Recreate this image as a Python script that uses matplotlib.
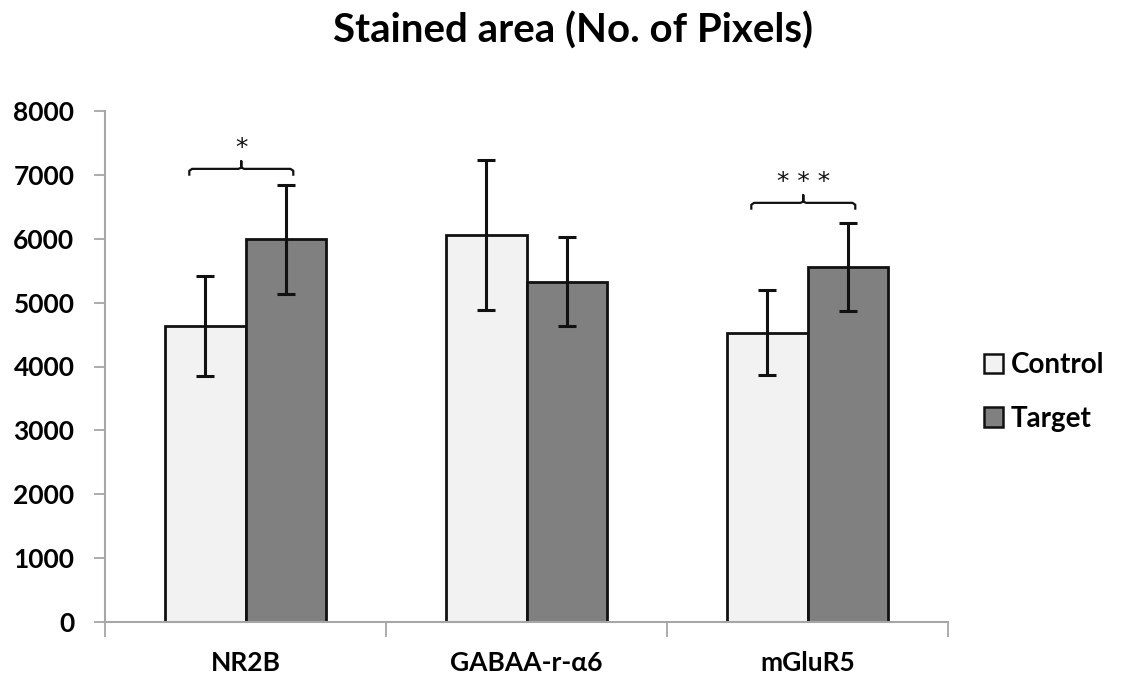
import numpy as np
import matplotlib
matplotlib.use('Agg')
import matplotlib.pyplot as plt
from matplotlib.patches import Patch

categories = ['NR2B', 'GABAA-r-\u03b16', 'mGluR5']
control = [4630, 6060, 4530]
control_err = [780, 1180, 665]
target = [5990, 5330, 5560]
target_err = [853, 690, 693]
yticks = [0, 1000, 2000, 3000, 4000, 5000, 6000, 7000, 8000]

# significance brackets: category index, label, bracket height
sig_idx = [0, 2]
sig_labels = ['*', '* * *']
sig_height = [7094, 6562]

plt.rcParams['font.family'] = ['Lato', 'DejaVu Sans']

fig = plt.figure(figsize=(11.23, 6.81), dpi=100)
ax = fig.add_axes([105 / 1123, 59 / 681, 843 / 1123, 511 / 681])

x = np.arange(len(categories))
w = 0.285
err_kw = dict(ecolor='#111111', elinewidth=2.2, capsize=6.5, capthick=2.2)
ax.bar(x - w / 2, control, w, color='#f2f2f2', edgecolor='#111111', linewidth=2.0,
       yerr=control_err, error_kw=err_kw, label='Control')
ax.bar(x + w / 2, target, w, color='#808080', edgecolor='#111111', linewidth=2.0,
       yerr=target_err, error_kw=err_kw, label='Target')

ax.set_xlim(-0.5, 2.5)
ax.set_ylim(0, 8000)
ax.set_yticks(yticks)
ax.set_yticklabels([str(v) for v in yticks], fontsize=19, fontweight='bold')
ax.set_xticks(x)
ax.set_xticklabels(categories, fontsize=19, fontweight='bold')
ax.tick_params(axis='x', length=0, pad=21)
ax.set_xticks([-0.5, 0.5, 1.5, 2.5], minor=True)
ax.tick_params(axis='x', which='minor', length=11, color='#a6a6a6', width=1.3)
ax.tick_params(axis='y', length=8, color='#a6a6a6', width=1.3, pad=14)

for s in ['top', 'right']:
    ax.spines[s].set_visible(False)
for s in ['left', 'bottom']:
    ax.spines[s].set_color('#a6a6a6')
    ax.spines[s].set_linewidth(1.5)
ax.spines['left'].set_zorder(0)

# brackets
for i, lab, h in zip(sig_idx, sig_labels, sig_height):
    x0 = i - 0.2
    x1 = i + 0.17
    xc = (x0 + x1) / 2
    ax.plot([x0, x0, x0 + 0.01, xc - 0.01, xc, xc, xc, xc + 0.01, x1 - 0.01, x1, x1],
            [h - 90, h - 30, h, h, h + 20, h + 120, h + 20, h, h, h - 30, h - 90],
            color='#111111', lw=1.6, solid_joinstyle='round')
    ax.text(xc, h + 330, lab, ha='center', va='center', fontsize=18,
            family='DejaVu Sans', color='#111111')

fig.text(0.51, 1 - 43 / 681, 'Stained area (No. of Pixels)', ha='center', va='baseline',
         fontsize=29, fontweight='bold')

handles = [Patch(facecolor='#f2f2f2', edgecolor='#111111', linewidth=1.8),
           Patch(facecolor='#808080', edgecolor='#111111', linewidth=1.8)]
fig.legend(handles, ['Control', 'Target'], loc='center left',
           bbox_to_anchor=(984 / 1123, 1 - 392 / 681), frameon=False,
           prop={'size': 20, 'weight': 'bold'}, handlelength=0.7, handleheight=0.7,
           handletextpad=0.25, labelspacing=1.0, borderpad=0, borderaxespad=0)

fig.savefig('out.png', dpi=100)
